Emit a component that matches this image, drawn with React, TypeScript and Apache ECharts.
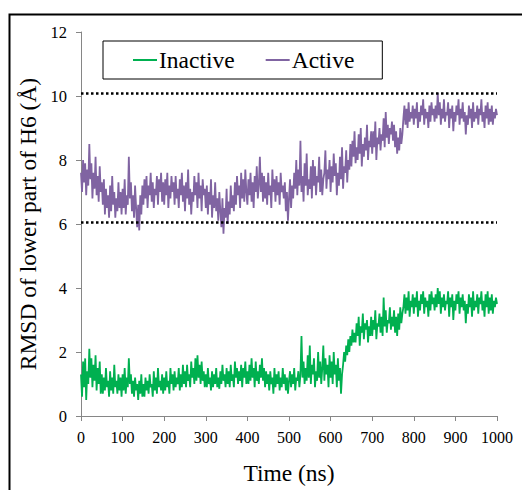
import { useEffect, useRef } from "react";
import * as echarts from "echarts";

const seriesNames = ["Inactive", "Active"];
const timeStepNs = 2.5;

// RMSD of lower part of H6 (Å), sampled every 2.5 ns from 0 to 1000 ns (one row = 100 ns)
const activeRmsd = [
  7.6, 7.0, 8.0, 7.3, 7.9, 6.9, 7.7, 7.2, 8.5, 7.4, 7.9, 6.8, 7.6, 7.1, 8.1, 6.9, 7.5, 6.7, 7.8, 7.0,
  7.3, 6.6, 7.4, 6.3, 7.1, 6.5, 6.9, 6.2, 7.2, 6.4, 7.5, 6.6, 7.0, 6.2, 6.8, 6.4, 7.3, 6.5, 7.0, 6.3,
  7.1, 6.5, 7.4, 6.3, 6.9, 6.6, 8.1, 6.8, 7.3, 6.4, 6.9, 6.2, 7.2, 6.5, 5.9, 6.6, 5.8, 6.9, 6.3, 7.2,
  6.6, 7.4, 6.8, 7.5, 6.5, 7.2, 6.9, 7.6, 6.7, 7.3, 6.5, 7.1, 6.9, 7.5, 6.6, 7.4, 7.0, 7.6, 6.7, 7.3,
  6.6, 7.4, 6.9, 7.6, 6.5, 7.2, 6.8, 7.5, 7.0, 7.3, 6.6, 7.5, 6.8, 7.1, 6.5, 7.4, 6.9, 7.6, 6.7, 7.2,
  6.4, 7.3, 6.8, 7.7, 6.6, 7.1, 6.3, 7.0, 6.7, 7.5, 6.9, 7.3, 6.5, 7.6, 6.8, 7.2, 6.4, 7.4, 6.9, 7.1,
  6.5, 7.2, 6.3, 7.0, 6.6, 7.4, 6.2, 6.9, 6.5, 7.3, 6.4, 6.8, 6.1, 7.0, 6.4, 5.9, 6.8, 5.7, 6.5, 6.2,
  7.1, 6.0, 6.7, 6.3, 7.2, 6.5, 6.9, 6.4, 7.3, 6.6, 7.5, 6.9, 7.2, 6.5, 7.6, 6.8, 7.4, 6.7, 7.7, 7.0,
  6.6, 7.4, 6.9, 7.6, 6.7, 7.3, 6.5, 7.5, 7.0, 7.8, 6.8, 7.2, 8.1, 7.0, 7.6, 6.7, 7.5, 6.8, 7.3, 6.6,
  7.6, 6.9, 7.2, 6.5, 7.7, 7.0, 7.4, 6.7, 7.5, 6.9, 7.3, 6.6, 7.6, 7.0, 7.2, 6.8, 7.3, 6.4, 7.0, 6.1,
  6.8, 7.4, 6.5, 7.2, 6.8, 7.6, 7.1, 8.0, 6.9, 7.7, 7.2, 8.6, 7.0, 7.5, 6.7, 7.9, 7.2, 8.2, 6.9, 7.4,
  7.1, 7.8, 6.8, 8.0, 7.2, 7.8, 6.9, 7.5, 7.3, 8.1, 7.0, 7.7, 6.9, 7.4, 7.6, 8.3, 7.1, 7.7, 7.4, 8.0,
  7.0, 7.8, 7.3, 8.2, 7.5, 7.9, 6.9, 7.6, 7.2, 8.1, 7.4, 8.4, 7.1, 7.8, 7.6, 8.3, 7.3, 8.0, 7.7, 8.5,
  7.8, 8.6, 8.1, 8.9, 7.9, 8.4, 8.0, 8.8, 8.2, 9.0, 7.8, 8.5, 8.1, 8.7, 8.3, 9.1, 8.0, 8.6, 8.4, 8.9,
  8.2, 8.9, 8.4, 9.2, 8.0, 8.7, 8.5, 9.0, 8.3, 8.8, 8.6, 9.3, 8.4, 9.5, 8.7, 9.1, 8.5, 9.0, 8.8, 9.2,
  8.6, 9.1, 8.4, 8.9, 8.2, 8.7, 8.3, 9.0, 8.5, 8.8, 9.3, 9.7, 9.1, 9.6, 9.0, 9.8, 9.2, 9.5, 9.3, 9.7,
  9.1, 9.6, 9.3, 9.8, 9.0, 9.5, 9.2, 9.7, 9.4, 9.9, 9.1, 9.6, 9.3, 9.5, 9.0, 9.7, 9.2, 9.8, 9.4, 9.6,
  9.2, 9.7, 9.3, 10.1, 9.4, 9.8, 9.1, 9.6, 9.3, 9.9, 9.2, 9.5, 9.4, 9.8, 9.0, 9.6, 9.3, 9.7, 8.9, 9.5,
  9.2, 9.7, 9.4, 9.9, 9.1, 9.6, 9.3, 9.8, 9.2, 9.5, 8.8, 9.4, 9.1, 9.7, 9.3, 9.6, 9.0, 9.8, 9.2, 9.5,
  9.3, 9.7, 9.1, 9.6, 9.4, 9.9, 9.2, 9.5, 9.0, 9.7, 9.3, 9.8, 9.1, 9.6, 9.2, 9.7, 9.1, 9.5, 9.3, 9.6,
  9.4,
];

const inactiveRmsd = [
  1.3, 0.6, 1.7, 0.9, 1.8, 0.5, 1.4, 1.0, 2.1, 1.2, 1.8, 0.9, 1.6, 1.1, 1.9, 0.8, 1.5, 1.0, 1.7, 0.7,
  1.3, 0.7, 1.2, 0.8, 1.5, 0.9, 1.1, 0.6, 1.4, 0.8, 1.2, 0.7, 1.6, 0.9, 1.1, 0.7, 1.3, 0.8, 1.2, 0.6,
  1.3, 0.8, 1.5, 0.7, 1.2, 0.9, 1.8, 1.0, 1.3, 0.7, 1.1, 0.6, 1.2, 0.8, 1.0, 0.5, 1.1, 0.7, 1.3, 0.6,
  1.0, 0.6, 1.2, 0.8, 1.1, 0.7, 1.3, 0.9, 1.0, 0.6, 1.4, 0.8, 1.2, 0.7, 1.5, 0.9, 1.1, 0.8, 1.3, 0.7,
  1.2, 0.8, 1.4, 0.9, 1.1, 0.7, 1.5, 1.0, 1.3, 0.8, 1.4, 0.9, 1.2, 1.0, 1.5, 0.8, 1.3, 0.9, 1.6, 1.0,
  1.4, 0.9, 1.6, 1.1, 1.3, 0.9, 1.7, 1.2, 1.5, 1.0, 1.8, 1.1, 1.9, 1.2, 1.6, 1.0, 1.7, 1.1, 1.4, 0.9,
  1.3, 0.9, 1.5, 1.0, 1.2, 0.8, 1.4, 0.9, 1.3, 1.0, 1.5, 0.9, 1.2, 0.85, 1.4, 1.0, 1.6, 1.1, 1.3, 0.9,
  1.5, 1.0, 1.4, 0.9, 1.6, 1.1, 1.3, 0.9, 1.7, 1.2, 1.5, 1.0, 1.4, 1.1, 1.6, 0.9, 1.5, 1.2, 1.7, 1.0,
  1.4, 1.0, 1.6, 1.1, 1.8, 1.2, 1.5, 0.9, 1.7, 1.1, 1.4, 1.0, 1.6, 1.2, 1.8, 1.1, 1.5, 0.9, 1.4, 1.0,
  1.3, 0.8, 1.4, 1.0, 1.2, 0.7, 1.5, 0.9, 1.3, 1.0, 1.4, 0.8, 1.2, 0.9, 1.5, 1.0, 1.3, 0.8, 1.2, 0.7,
  1.1, 1.4, 0.9, 1.3, 1.0, 1.5, 0.8, 1.2, 1.1, 1.4, 0.9, 1.3, 2.5, 1.2, 1.7, 1.0, 1.5, 1.1, 1.9, 1.2,
  2.2, 1.0, 1.6, 1.3, 1.8, 0.9, 1.4, 1.1, 2.0, 1.2, 1.7, 1.0, 1.5, 2.2, 1.1, 1.8, 1.3, 1.6, 0.9, 1.9,
  1.2, 1.7, 1.0, 2.0, 1.3, 1.6, 0.9, 1.8, 1.1, 1.5, 0.7, 1.3, 1.6, 2.0, 1.7, 2.2, 1.9, 2.4, 2.0, 2.5,
  2.2, 2.7, 2.3, 2.6, 2.3, 2.9, 2.5, 3.1, 2.2, 2.8, 2.6, 3.2, 2.4, 2.9, 2.7, 3.0, 2.3, 2.8, 2.5, 3.1,
  2.5, 3.0, 2.7, 3.3, 2.4, 2.9, 2.8, 3.2, 2.6, 3.1, 2.5, 3.7, 2.8, 3.3, 2.6, 3.0, 2.9, 3.4, 2.7, 3.1,
  2.8, 3.3, 2.6, 3.1, 2.5, 3.2, 2.7, 3.4, 2.9, 3.2, 3.4, 3.8, 3.2, 3.7, 3.3, 3.9, 3.1, 3.6, 3.4, 3.8,
  3.2, 3.7, 3.4, 3.9, 3.1, 3.6, 3.3, 3.8, 3.5, 3.9, 3.2, 3.7, 3.4, 3.6, 3.1, 3.8, 3.3, 3.9, 3.5, 3.7,
  3.3, 3.8, 3.4, 4.0, 3.5, 3.9, 3.2, 3.7, 3.4, 3.8, 3.3, 3.6, 3.5, 3.9, 3.1, 3.7, 3.4, 3.8, 3.0, 3.6,
  3.3, 3.8, 3.5, 3.9, 3.2, 3.7, 3.4, 3.8, 3.3, 3.6, 2.9, 3.5, 3.2, 3.8, 3.4, 3.7, 3.1, 3.9, 3.3, 3.6,
  3.4, 3.8, 3.2, 3.7, 3.5, 3.9, 3.3, 3.6, 3.1, 3.8, 3.4, 3.9, 3.2, 3.7, 3.3, 3.8, 3.2, 3.6, 3.4, 3.7,
  3.5,
];

const referenceLevels = [10.1, 6.05];

const colors = ["#00B050", "#8064A2"];
const FONT = "Liberation Serif";

export default function App() {
  const ref = useRef<HTMLDivElement>(null);

  useEffect(() => {
    if (!ref.current) return;
    const chart = echarts.init(ref.current, undefined, { renderer: "svg", width: 522, height: 490 });
    const toPairs = (arr: number[]) => arr.map((v, i) => [i * timeStepNs, v]);

    chart.setOption({
      animation: false,
      backgroundColor: "#ffffff",
      textStyle: { fontFamily: FONT },
      grid: { left: 81, top: 32, width: 416, height: 398, containLabel: false },
      legend: {
        data: seriesNames,
        left: 103,
        top: 41,
        orient: "horizontal",
        icon: "rect",
        itemWidth: 24,
        itemHeight: 2,
        itemGap: 31,
        padding: [7, 28, 7, 30],
        borderColor: "#000",
        borderWidth: 1,
        textStyle: { fontFamily: FONT, fontSize: 23.5, color: "#000", padding: [0, 0, 0, -3] },
      },
      xAxis: {
        type: "value",
        min: 0,
        max: 1000,
        interval: 100,
        name: "Time (ns)",
        nameLocation: "middle",
        nameGap: 45,
        nameTextStyle: { fontFamily: FONT, fontSize: 23.5, color: "#000" },
        axisLine: { show: true, lineStyle: { color: "#868686", width: 1 } },
        axisTick: { show: true, inside: false, length: 5, lineStyle: { color: "#868686" } },
        axisLabel: {
          fontFamily: FONT,
          fontSize: 16,
          color: "#000",
          margin: 13,
          formatter: (v: number) => String(v),
        },
        splitLine: { show: false },
      },
      yAxis: {
        type: "value",
        min: 0,
        max: 12,
        interval: 2,
        name: "RMSD of lower part of H6 (Å)",
        nameLocation: "middle",
        nameGap: 36,
        nameTextStyle: { fontFamily: FONT, fontSize: 23.5, color: "#000" },
        axisLine: { show: true, lineStyle: { color: "#868686", width: 1 } },
        axisTick: { show: true, inside: false, length: 5, lineStyle: { color: "#868686" } },
        axisLabel: { fontFamily: FONT, fontSize: 16.5, color: "#000", margin: 14 },
        splitLine: { show: false },
      },
      series: [
        {
          name: seriesNames[0],
          type: "line",
          data: toPairs(inactiveRmsd),
          showSymbol: false,
          symbol: "none",
          color: colors[0],
          lineStyle: { width: 1.8, color: colors[0] },
        },
        {
          name: seriesNames[1],
          type: "line",
          data: toPairs(activeRmsd),
          showSymbol: false,
          symbol: "none",
          color: colors[1],
          lineStyle: { width: 1.8, color: colors[1] },
          markLine: {
            silent: true,
            symbol: ["none", "none"],
            label: { show: false },
            lineStyle: { type: "dotted", color: "#000", width: 2.5 },
            data: referenceLevels.map((v) => ({ yAxis: v })),
          },
        },
      ],
      graphic: [
        {
          type: "rect",
          shape: { x: 9.5, y: 14.5, width: 600, height: 600 },
          style: { fill: "none", stroke: "#000", lineWidth: 2 },
          silent: true,
        },
      ],
    });

    return () => chart.dispose();
  }, []);

  return (
    <div
      ref={ref}
      style={{ position: "fixed", left: 0, top: 0, width: 522, height: 490, background: "#fff" }}
    />
  );
}
